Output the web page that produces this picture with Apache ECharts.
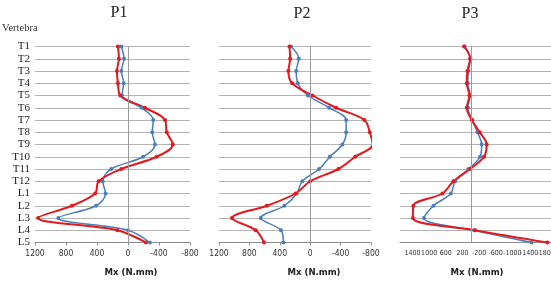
<!DOCTYPE html>
<html>
<head>
<meta charset="utf-8">
<script src="https://cdn.jsdelivr.net/npm/echarts@6/dist/echarts.min.js"></script>
<style>
  html, body { margin: 0; padding: 0; background: #fff; }
  #chart { width: 551px; height: 285px; }
</style>
</head>
<body>
<div id="chart"></div>
<script>
// vertebra levels, top to bottom
var categories = ['T1', 'T2', 'T3', 'T4', 'T5', 'T6', 'T7', 'T8', 'T9', 'T10', 'T11', 'T12', 'L1', 'L2', 'L3', 'L4', 'L5'];

// Mx (N.mm)
var p1Blue = [86, 52, 86, 56, 78, -175, -326, -313, -348, -195, 216, 326, 290, 412, 899, 0, -283];
var p1Red  = [130, 117, 143, 130, 99, -218, -478, -500, -578, -370, 86, 378, 425, 724, 1160, 138, -231];
var p2Blue = [251, 150, 184, 163, 30, -250, -473, -473, -424, -260, -117, 104, 176, 340, 651, 384, 353];
var p2Red  = [273, 264, 287, 237, -30, -340, -713, -784, -820, -593, -371, 0, 193, 571, 1029, 717, 607];
var p3Blue = [150, 5, 57, 70, 15, 70, -40, -160, -263, -223, 57, 376, 479, 896, 1125, -79, -1461];
var p3Red  = [160, 17, 80, 96, 32, 96, -24, -215, -383, -319, 17, 417, 680, 1380, 1390, -103, -1840];

var titles = ['P1', 'P2', 'P3'];
var axisTitle = 'Mx (N.mm)';

var BLUE = '#4a7ebb';
var RED = '#e3191f';
var GRID = '#b4b4b4';
var serif = "'Liberation Serif', 'DejaVu Serif', serif";
var narrow = "'Liberation Sans Narrow', 'DejaVu Sans Condensed', 'Liberation Sans', sans-serif";

var chart = echarts.init(document.getElementById('chart'));

function xAxisFor(i, min, max, interval, size, fmt) {
    return {
        gridIndex: i, type: 'value', inverse: true,
        min: min, max: max, interval: interval,
        splitLine: { show: false },
        axisLine: { show: true, onZero: false, lineStyle: { color: '#8c8c8c' } },
        axisTick: { show: i < 2, length: 3, lineStyle: { color: '#8c8c8c' } },
        axisLabel: {
            margin: 7, fontSize: size, color: '#333', fontFamily: narrow,
            hideOverlap: false,
            formatter: fmt || function (v) { return String(v); }
        }
    };
}

function yAxisFor(i) {
    return {
        gridIndex: i, type: 'category', data: categories, inverse: true,
        boundaryGap: false,
        axisLine: { show: false }, axisTick: { show: false },
        splitLine: { show: true, interval: 0, lineStyle: { color: GRID, width: 1 } },
        axisLabel: { show: i === 0, interval: 0, margin: 5, fontSize: 11, color: '#222', fontFamily: serif }
    };
}

function line(i, data, color, width, withZero) {
    var s = {
        type: 'line', xAxisIndex: i, yAxisIndex: i, data: data,
        smooth: 0.35, symbol: 'circle', symbolSize: 4, showSymbol: true,
        lineStyle: { color: color, width: width },
        itemStyle: { color: color }
    };
    if (withZero) {
        s.markLine = {
            silent: true, symbol: 'none', label: { show: false },
            lineStyle: { color: '#9a9a9a', type: 'solid', width: 1 },
            data: [{ xAxis: 0 }]
        };
    }
    return s;
}

function text(x, y, str, size, family, weight) {
    return {
        type: 'text', x: x, y: y,
        style: {
            text: str, fontSize: size, fontFamily: family, fontWeight: weight || 'normal',
            fill: '#222', align: 'center', verticalAlign: 'middle'
        }
    };
}

chart.setOption({
    animation: false,
    grid: [
        { left: 35, top: 46.5, width: 155, height: 196, outerBoundsMode: 'none', containLabel: false },
        { left: 219, top: 46.5, width: 152, height: 196, outerBoundsMode: 'none', containLabel: false },
        { left: 400, top: 46.5, width: 154, height: 196, outerBoundsMode: 'none', containLabel: false }
    ],
    xAxis: [
        xAxisFor(0, -800, 1200, 400, 8.5),
        xAxisFor(1, -800, 1200, 400, 8.5),
        xAxisFor(2, -2000, 1700, 200, 7, function (v) {
            return Math.abs(v) % 400 === 200 ? String(v) : '';
        })
    ],
    yAxis: [yAxisFor(0), yAxisFor(1), yAxisFor(2)],
    series: [
        line(0, p1Blue, BLUE, 1.5, true),
        line(0, p1Red, RED, 2),
        line(1, p2Blue, BLUE, 1.5, true),
        line(1, p2Red, RED, 2),
        line(2, p3Blue, BLUE, 1.5, true),
        line(2, p3Red, RED, 2)
    ],
    graphic: [
        text(119, 13, titles[0], 16, serif),
        text(302, 14, titles[1], 16, serif),
        text(470, 14, titles[2], 16, serif),
        { type: 'text', x: 2, y: 28, style: { text: 'Vertebra', fontSize: 10.5, fontFamily: serif, fill: '#333', verticalAlign: 'middle' } },
        text(131, 273, axisTitle, 9.5, narrow, 'bold'),
        text(314, 273, axisTitle, 9.5, narrow, 'bold'),
        text(477, 273, axisTitle, 9.5, narrow, 'bold')
    ]
});
</script>
</body>
</html>
